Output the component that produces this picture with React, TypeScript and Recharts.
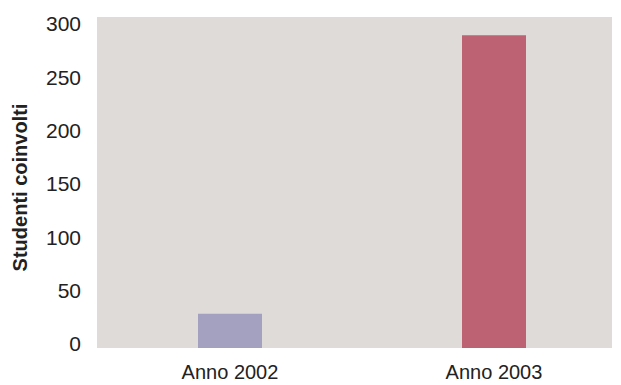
import { BarChart, Bar, XAxis, YAxis, CartesianGrid, Cell } from 'recharts';

const anni = ['Anno 2002', 'Anno 2003'];
const studenti = [32, 293];
const coloriBarre = ['#a4a1c0', '#bd6273'];
const tickY = [0, 50, 100, 150, 200, 250, 300];

const dati = anni.map((anno, i) => ({ anno, studenti: studenti[i] }));

const font = 'Liberation Sans, Arial, sans-serif';

// etichetta verticale dell'asse Y, un po' sotto il centro come nell'originale
function EtichettaY({ viewBox }: { viewBox?: { x: number; y: number; width: number; height: number } }) {
  if (!viewBox) return null;
  const cx = viewBox.x + 27;
  const cy = viewBox.y + viewBox.height / 2 + 5;
  return (
    <text
      x={cx}
      y={cy}
      transform={`rotate(-90 ${cx} ${cy})`}
      textAnchor="middle"
      fill="#222"
      fontSize={20}
      fontWeight="bold"
      fontFamily={font}
    >
      Studenti coinvolti
    </text>
  );
}

export default function App() {
  return (
    <div style={{ position: 'absolute', left: 0, top: 0, background: '#fff' }}>
      <BarChart
        width={621}
        height={385}
        data={dati}
        margin={{ top: 17, right: 9, left: 0, bottom: 0 }}
      >
        {/* solo lo sfondo grigio, senza linee */}
        <CartesianGrid fill="#dfdbd8" stroke="none" horizontal={false} vertical={false} />
        <XAxis
          dataKey="anno"
          axisLine={false}
          tickLine={false}
          tickSize={0}
          tickMargin={17}
          padding={{ left: 1, right: -14 }}
          tick={{ fill: '#222', fontSize: 20, fontFamily: font }}
          height={37}
        />
        <YAxis
          domain={[0, 310]}
          ticks={tickY}
          width={97}
          axisLine={false}
          tickLine={false}
          tickSize={0}
          tickMargin={16}
          tick={{ fill: '#222', fontSize: 21, fontFamily: font, dy: -4 }}
          label={<EtichettaY />}
        />
        <Bar dataKey="studenti" barSize={64} isAnimationActive={false}>
          {dati.map((d, i) => (
            <Cell key={d.anno} fill={coloriBarre[i]} />
          ))}
        </Bar>
      </BarChart>
    </div>
  );
}
